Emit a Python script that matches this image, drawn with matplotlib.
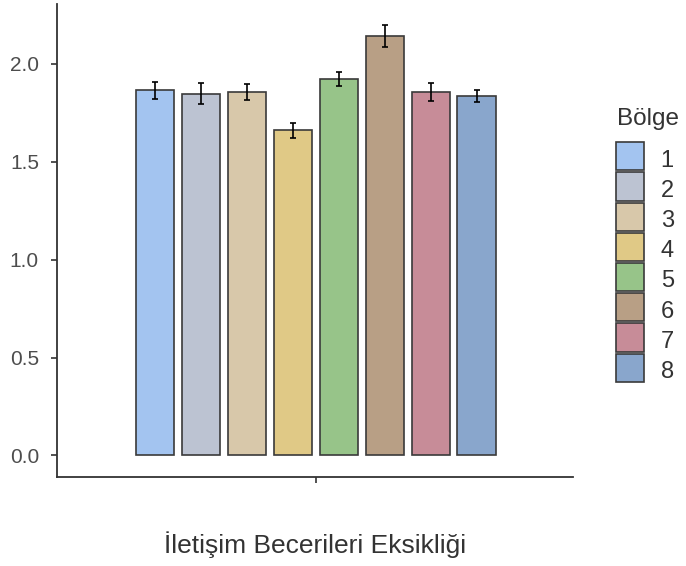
import matplotlib.pyplot as plt
from matplotlib.legend_handler import HandlerPatch
import numpy as np

# data
regions = ['1', '2', '3', '4', '5', '6', '7', '8']
means = [1.864, 1.848, 1.854, 1.660, 1.922, 2.141, 1.857, 1.837]
errors = [0.044, 0.052, 0.040, 0.038, 0.036, 0.058, 0.045, 0.031]
colors = ['#a3c4f0', '#bcc3d2', '#d8c8aa', '#e0c986',
          '#97c489', '#b89f85', '#c78c98', '#89a6cc']
x_label = 'İletişim Becerileri Eksikliği'
legend_title = 'Bölge'

plt.rcParams['font.family'] = ['Liberation Sans', 'DejaVu Sans']

fig = plt.figure(figsize=(6.86, 5.66), dpi=100)
ax = fig.add_axes([57 / 686, 89 / 566, 516 / 686, 473 / 566])

pos = np.arange(1, len(regions) + 1)
bars = ax.bar(pos, means, width=0.83, color=colors, edgecolor='#3a3a3a',
              linewidth=1.2, label=regions)
ax.errorbar(pos, means, yerr=errors, fmt='none', ecolor='black',
            elinewidth=1.2, capsize=2.2, capthick=1.2)

ax.set_xlim(-1.135, 10.1)
ax.set_ylim(-0.11, 2.305)
ax.set_xticks([4.5])
ax.set_xticklabels([''])
ax.set_yticks([0, 0.5, 1.0, 1.5, 2.0])
ax.set_yticklabels(['0.0', '0.5', '1.0', '1.5', '2.0'])
ax.tick_params(axis='both', colors='#333333', labelcolor='#4d4d4d',
               labelsize=15, length=4, width=1.2, pad=9)
for side in ['top', 'right']:
    ax.spines[side].set_visible(False)
for side in ['left', 'bottom']:
    ax.spines[side].set_color('#333333')
    ax.spines[side].set_linewidth(1.3)

ax.set_xlabel(x_label, fontsize=19, color='#333333', labelpad=26)


# square legend keys, centred in each row
def square_key(legend, orig_handle, xdescent, ydescent, width, height, fontsize):
    s = width
    y0 = (height - ydescent) / 2 - s / 2
    return plt.Rectangle((-xdescent, y0), s, s)


handles = [plt.Rectangle((0, 0), 1, 1, facecolor=c, edgecolor='#3a3a3a',
                         linewidth=1.2) for c in colors]
leg = fig.legend(handles, regions, loc='upper left',
                 bbox_to_anchor=(616 / 686, 1 - 146 / 566), frameon=False,
                 fontsize=17, handlelength=1.19,
                 handleheight=1.29, handletextpad=0.7, labelspacing=0.19,
                 borderaxespad=0, borderpad=0,
                 handler_map={plt.Rectangle: HandlerPatch(patch_func=square_key)})
for t in leg.get_texts():
    t.set_color('#333333')
fig.text(617 / 686, 1 - 125 / 566, legend_title, fontsize=17.5,
         color='#333333', ha='left', va='baseline')

fig.savefig('out.png', dpi=100)
